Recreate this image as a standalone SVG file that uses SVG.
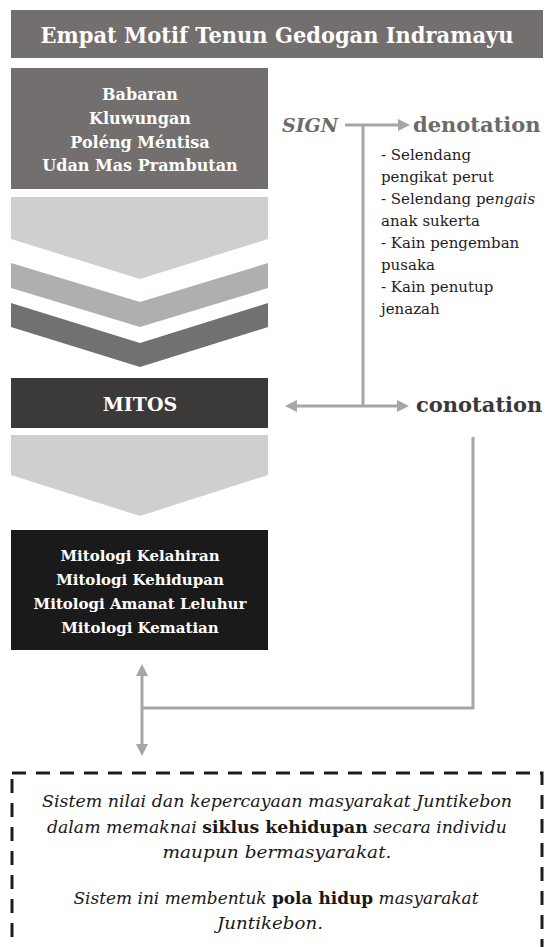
<svg xmlns="http://www.w3.org/2000/svg" width="547" height="947" viewBox="0 0 547 947">
<style>
.w{fill:#ffffff;font-family:"DejaVu Serif","Liberation Serif",serif;font-weight:bold;text-anchor:middle}
.g{fill:#6e6a6a;font-family:"DejaVu Serif","Liberation Serif",serif;font-weight:bold}
.d{fill:#1e1c1c;font-family:"DejaVu Serif","Liberation Serif",serif;font-size:15px}
.it{fill:#1a1818;font-family:"DejaVu Serif","Liberation Serif",serif;font-style:italic;font-size:17px;text-anchor:middle}
.conn{stroke:#a6a6a6;stroke-width:3;fill:none}
</style>
<defs>
<marker id="ah" viewBox="0 0 12 12" refX="2" refY="6" markerWidth="12" markerHeight="12" markerUnits="userSpaceOnUse" orient="auto-start-reverse">
<path d="M0,0 L12,6 L0,12 z" fill="#a6a6a6"/>
</marker>
</defs>
<rect width="547" height="947" fill="#ffffff"/>
<g id="title">
<rect x="11" y="10" width="532" height="48" fill="#736f6e"/>
<text class="w" x="277" y="43" font-size="22" textLength="473" lengthAdjust="spacingAndGlyphs">Empat Motif Tenun Gedogan Indramayu</text>
</g>
<g id="motifs">
<rect x="11" y="68" width="257" height="121" fill="#736f6e"/>
<text class="w" font-size="16"><tspan x="140" y="100">Babaran</tspan><tspan x="140" y="124">Kluwungan</tspan><tspan x="140" y="148">Poléng Méntisa</tspan><tspan x="140" y="171">Udan Mas Prambutan</tspan></text>
</g>
<g id="chevrons">
<polygon points="11,197 268,197 268,239 140,279 11,239" fill="#d0cfd0"/>
<polygon points="11,263 140,302 268,263 268,288 140,327 11,288" fill="#b1aeae"/>
<polygon points="11,303 140,343 268,303 268,327 140,367 11,327" fill="#737070"/>
</g>
<g id="mitos">
<rect x="11" y="378" width="257" height="50" fill="#3b3a39"/>
<text class="w" x="140" y="411" font-size="19">MITOS</text>
</g>
<g id="chevron-mitos">
<polygon points="11,435 268,435 268,475 140,516 11,475" fill="#d0cfd0"/>
</g>
<g id="mitologi">
<rect x="11" y="530" width="257" height="120" fill="#1b1a1a"/>
<text class="w" font-size="15"><tspan x="140" y="561">Mitologi Kelahiran</tspan><tspan x="140" y="585">Mitologi Kehidupan</tspan><tspan x="140" y="609">Mitologi Amanat Leluhur</tspan><tspan x="140" y="633">Mitologi Kematian</tspan></text>
</g>
<g id="sign">
<text class="g" x="282" y="132" font-size="19" font-style="italic">SIGN</text>
</g>
<g id="denotation">
<text class="g" x="413" y="132" font-size="21">denotation</text>
<text class="d"><tspan x="381" y="160">- Selendang</tspan><tspan x="381" y="182">pengikat perut</tspan><tspan x="381" y="204">- Selendang pe<tspan font-style="italic">ngais</tspan></tspan><tspan x="381" y="226">anak sukerta</tspan><tspan x="381" y="248">- Kain pengemban</tspan><tspan x="381" y="270">pusaka</tspan><tspan x="381" y="292">- Kain penutup</tspan><tspan x="381" y="314">jenazah</tspan></text>
</g>
<g id="conotation">
<text class="g" x="416" y="412" font-size="21" style="fill:#3a3838">conotation</text>
</g>
<g id="connectors">
<line class="conn" x1="345" y1="125" x2="400" y2="125" marker-end="url(#ah)"/>
<line class="conn" x1="363" y1="125" x2="363" y2="406"/>
<line class="conn" x1="295" y1="406" x2="399" y2="406" marker-start="url(#ah)" marker-end="url(#ah)"/>
<polyline class="conn" points="473,437 473,708 142,708"/>
<line class="conn" x1="142" y1="674" x2="142" y2="746" marker-start="url(#ah)" marker-end="url(#ah)"/>
</g>
<g id="sistem">
<rect x="12" y="773" width="530" height="200" fill="none" stroke="#1e1e1e" stroke-width="3" stroke-dasharray="14 10"/>
<text class="it" x="277" y="807" textLength="470" lengthAdjust="spacingAndGlyphs">Sistem nilai dan kepercayaan masyarakat Juntikebon</text>
<text class="it" x="277" y="833" textLength="460" lengthAdjust="spacingAndGlyphs">dalam memaknai <tspan font-weight="bold" font-style="normal">siklus kehidupan</tspan> secara individu</text>
<text class="it" x="277" y="858" textLength="229" lengthAdjust="spacingAndGlyphs">maupun bermasyarakat.</text>
<text class="it" x="276" y="904" textLength="405" lengthAdjust="spacingAndGlyphs">Sistem ini membentuk <tspan font-weight="bold" font-style="normal">pola hidup</tspan> masyarakat</text>
<text class="it" x="270" y="929" textLength="106" lengthAdjust="spacingAndGlyphs">Juntikebon.</text>
</g>
</svg>
